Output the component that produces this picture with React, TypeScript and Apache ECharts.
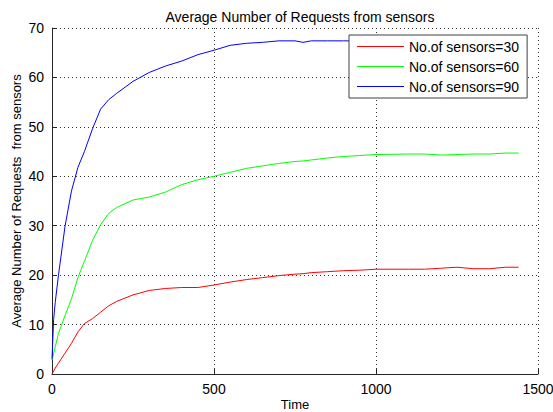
import React, { useEffect, useRef } from "react";
import * as echarts from "echarts";

const time = [0, 5, 10, 20, 40, 60, 80, 100, 125, 150, 175, 200, 250, 300, 350, 400, 450, 500, 550, 600, 650, 700, 750, 775, 800, 850, 900, 950, 1000, 1100, 1150, 1200, 1250, 1300, 1350, 1400, 1440];
const sensors30 = [0, 0.6, 1.2, 2.2, 4.2, 6.2, 8.5, 10.2, 11.2, 12.5, 13.8, 14.7, 16.0, 16.9, 17.3, 17.5, 17.5, 18.0, 18.6, 19.1, 19.5, 19.9, 20.2, 20.3, 20.5, 20.7, 20.9, 21.0, 21.2, 21.2, 21.2, 21.4, 21.6, 21.3, 21.3, 21.6, 21.6];
const sensors60 = [2.8, 4.1, 5.5, 8.2, 11.8, 15.2, 19.5, 22.8, 27.0, 30.2, 32.5, 33.7, 35.2, 35.8, 36.8, 38.3, 39.3, 40.0, 40.8, 41.6, 42.1, 42.6, 43.0, 43.1, 43.3, 43.7, 44.0, 44.2, 44.4, 44.5, 44.5, 44.3, 44.4, 44.5, 44.5, 44.7, 44.7];
const sensors90 = [3, 11, 14.5, 20, 29.8, 37, 41.8, 45, 49.6, 53.6, 55.5, 56.8, 59.2, 61, 62.3, 63.3, 64.6, 65.5, 66.5, 66.9, 67.1, 67.4, 67.4, 67.1, 67.4, 67.4, 67.4, 67.4, 67.5, 67.5, 67.5, 67.5, 67.5, 67.5, 67.5, 67.5, 67.5];
const xTicks = { min: 0, max: 1500, interval: 500 };
const yTicks = { min: 0, max: 70, interval: 10 };
const seriesNames = ["No.of sensors=30", "No.of sensors=60", "No.of sensors=90"];
const seriesColors = ["#ff0000", "#00ff00", "#0000ff"];

const FONT = "'Liberation Sans', Arial, Helvetica, sans-serif";

export default function App() {
  const ref = useRef<HTMLDivElement>(null);
  useEffect(() => {
    if (!ref.current) return;
    const chart = echarts.init(ref.current, null, { renderer: "svg" });
    const datasets = [sensors30, sensors60, sensors90];
    const axisCommon = {
      axisLine: { show: true, lineStyle: { color: "#262626", width: 1 } },
      axisTick: { show: true, inside: true, length: 5, lineStyle: { color: "#262626" } },
      axisLabel: { color: "#000", fontSize: 14, fontFamily: FONT, formatter: (v: number) => String(v) },
      splitLine: { show: true, showMinLine: false, showMaxLine: true, lineStyle: { color: "#333", type: [1, 3], width: 1 } },
      nameTextStyle: { color: "#000", fontSize: 13, fontFamily: FONT },
      nameMoveOverlap: false,
    };
    chart.setOption({
      animation: false,
      backgroundColor: "#fff",
      title: {
        text: "Average Number of Requests from sensors",
        left: 295,
        textAlign: "center",
        top: 5,
        textStyle: { color: "#000", fontSize: 14, fontWeight: "normal", fontFamily: FONT },
      },
      grid: { left: 52, right: 15, top: 28, bottom: 38, outerBoundsMode: "none", containLabel: false },
      legend: {
        orient: "vertical",
        left: 349,
        top: 35,
        width: 183,
        data: seriesNames,
        icon: "rect",
        backgroundColor: "#fff",
        borderColor: "#404040",
        borderWidth: 1,
        borderRadius: 0,
        padding: [2, 8, 2, 8],
        itemWidth: 47,
        itemHeight: 1,
        itemGap: 1,
        textStyle: { color: "#000", fontSize: 14, fontFamily: FONT, lineHeight: 19 },
      },
      xAxis: {
        type: "value",
        ...xTicks,
        ...axisCommon,
        name: "Time",
        nameLocation: "middle",
        nameGap: 24,
      },
      yAxis: {
        type: "value",
        ...yTicks,
        ...axisCommon,
        name: "Average Number of Requests  from sensors",
        nameLocation: "middle",
        nameGap: 29,
      },
      series: datasets.map((vals, i) => ({
        name: seriesNames[i],
        type: "line",
        symbol: "none",
        showSymbol: false,
        data: time.map((t, j) => [t, vals[j]]),
        lineStyle: { color: seriesColors[i], width: 1 },
        itemStyle: { color: seriesColors[i] },
      })),
    });
    return () => chart.dispose();
  }, []);
  return <div ref={ref} style={{ width: 553, height: 412, position: "absolute", left: 0, top: 0 }} />;
}
